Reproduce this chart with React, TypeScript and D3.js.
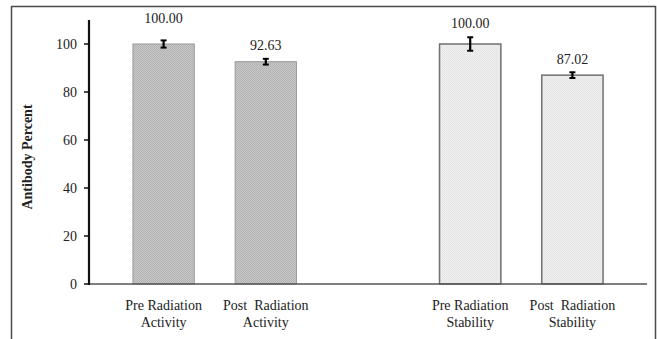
import React from 'react';
import { scaleBand, scaleLinear } from 'd3';

// data
const categories = ['Pre Radiation|Activity', 'Post  Radiation|Activity', 'gap', 'Pre Radiation|Stability', 'Post  Radiation|Stability'];
const values = [100.0, 92.63, null, 100.0, 87.02];
const errors = [1.5, 1.2, null, 2.8, 1.2];
const groups = ['activity', 'activity', null, 'stability', 'stability'];
const yTicks = [0, 20, 40, 60, 80, 100];

const W = 657;
const H = 339;
const margin = { left: 89, right: 10, top: 20, bottom: 55 };
const font = "'Liberation Serif', 'DejaVu Serif', serif";

export default function App() {
    const x = scaleBand<string>()
        .domain(categories)
        .range([margin.left, W - margin.right])
        .paddingInner(0.4)
        .paddingOuter(0.43);

    const y = scaleLinear()
        .domain([0, 110])
        .range([H - margin.bottom, margin.top]);

    const y0 = y(0);
    // value labels sit a bit above the error bars; first one is raised more in the original
    const labelLift = [12, 4, 0, 4, 3];
    const txt = { fontFamily: font, fontSize: 14, fill: '#222' } as React.CSSProperties;

    return (
        <svg width={W} height={H} style={{ position: 'absolute', left: 0, top: 0, background: '#fff', fontFamily: font }}>
            <defs>
                <pattern id="darkDots" width="2" height="2" patternUnits="userSpaceOnUse">
                    <rect width="2" height="2" fill="#c8c8c8" />
                    <rect width="1" height="1" fill="#afafaf" />
                    <rect x="1" y="1" width="1" height="1" fill="#b4b4b4" />
                </pattern>
                <pattern id="lightDots" width="2" height="2" patternUnits="userSpaceOnUse">
                    <rect width="2" height="2" fill="#f0f0f0" />
                    <rect width="1" height="1" fill="#e2e2e2" />
                    <rect x="1" y="1" width="1" height="1" fill="#e6e6e6" />
                </pattern>
            </defs>

            {/* outer frame, bottom edge cut off */}
            <path d={`M11.5,${H} V6.5 H655.5 V${H}`} fill="none" stroke="#4a4a4a" strokeWidth={1.5} />

            {/* bars */}
            {categories.map((c, i) => {
                const v = values[i];
                if (v == null) return null;
                const bx = x(c) as number;
                const by = y(v);
                const dark = groups[i] === 'activity';
                return (
                    <rect
                        key={c}
                        x={bx}
                        y={by}
                        width={x.bandwidth()}
                        height={y0 - by}
                        fill={dark ? 'url(#darkDots)' : 'url(#lightDots)'}
                        stroke={dark ? '#9a9a9a' : '#707070'}
                        strokeWidth={dark ? 1 : 1.5}
                    />
                );
            })}

            {/* x axis */}
            <line x1={margin.left} x2={W - margin.right} y1={y0} y2={y0} stroke="#555" strokeWidth={1.5} />

            {/* y axis */}
            <line x1={margin.left} x2={margin.left} y1={y(110)} y2={y0 + 1} stroke="#111" strokeWidth={2.2} />
            {yTicks.map((t) => (
                <g key={t}>
                    <line x1={margin.left - 5} x2={margin.left} y1={y(t)} y2={y(t)} stroke="#111" strokeWidth={1.5} />
                    <text x={margin.left - 12} y={y(t)} dy="0.35em" textAnchor="end" style={txt}>
                        {t}
                    </text>
                </g>
            ))}
            <text
                transform={`translate(27,${(y(110) + y0) / 2 + 5}) rotate(-90)`}
                textAnchor="middle"
                dy="0.35em"
                style={{ ...txt, fontWeight: 'bold' }}
            >
                Antibody Percent
            </text>

            {/* error bars and value labels */}
            {categories.map((c, i) => {
                const v = values[i];
                const e = errors[i];
                if (v == null || e == null) return null;
                const cx = (x(c) as number) + x.bandwidth() / 2;
                const top = y(v + e);
                const bot = y(v - e);
                return (
                    <g key={c}>
                        <line x1={cx} x2={cx} y1={top} y2={bot} stroke="#000" strokeWidth={2.2} />
                        <line x1={cx - 3} x2={cx + 3} y1={top} y2={top} stroke="#000" strokeWidth={2} />
                        <line x1={cx - 3} x2={cx + 3} y1={bot} y2={bot} stroke="#000" strokeWidth={2} />
                        <text x={cx} y={top - 5 - labelLift[i]} textAnchor="middle" style={txt}>
                            {v.toFixed(2)}
                        </text>
                    </g>
                );
            })}

            {/* category labels */}
            {categories.map((c, i) => {
                if (values[i] == null) return null;
                const cx = (x(c) as number) + x.bandwidth() / 2;
                const [l1, l2] = c.split('|');
                return (
                    <text key={c} x={cx} textAnchor="middle" style={{ ...txt, whiteSpace: 'pre' }}>
                        <tspan x={cx} y={y0 + 26}>{l1}</tspan>
                        <tspan x={cx} y={y0 + 43}>{l2}</tspan>
                    </text>
                );
            })}
        </svg>
    );
}
